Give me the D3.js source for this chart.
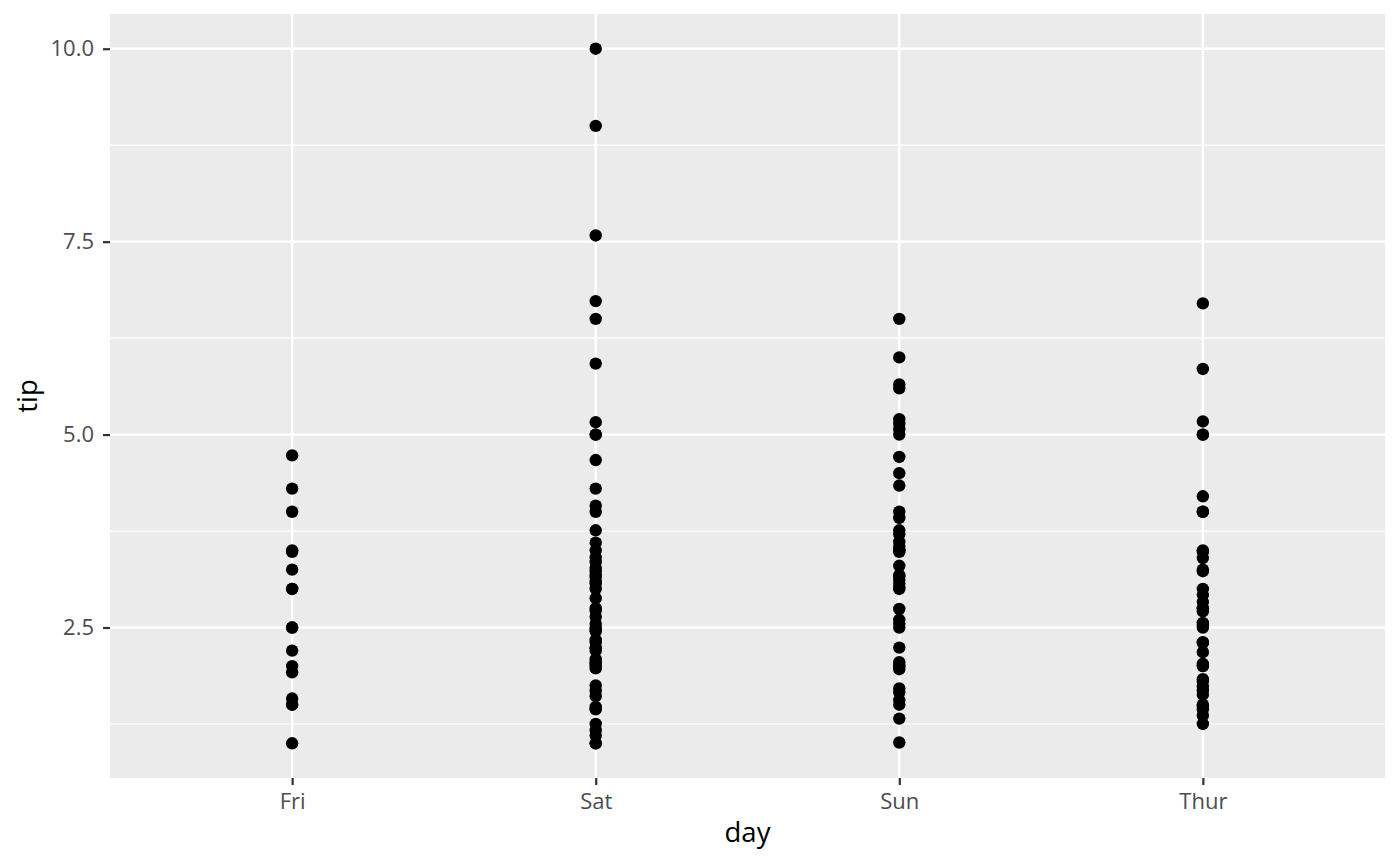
<!DOCTYPE html>
<html>
<head>
<meta charset="utf-8">
<script src="https://cdnjs.cloudflare.com/ajax/libs/d3/7.8.5/d3.min.js"></script>
<style>
  body { margin: 0; background: #fff; }
  text { font-family: "Open Sans", "Noto Sans", sans-serif; }
</style>
</head>
<body>
<div id="chart"></div>
<script>
  // categories on the x axis
  var days = ["Fri", "Sat", "Sun", "Thur"];

  // tip values per day
  var friTips = [4.73, 4.30, 4.00, 3.50, 3.48, 3.25, 3.00, 3.00, 2.50, 2.50, 2.20,
                 2.00, 1.92, 1.58, 1.50, 1.50, 1.00];
  var satTips = [10.00, 9.00, 7.58, 6.73, 6.50, 5.92, 5.16, 5.00, 5.00, 4.67, 4.30,
                 4.08, 4.00, 3.76, 3.60, 3.50, 3.41, 3.35, 3.27, 3.23, 3.18, 3.15,
                 3.09, 3.07, 3.00, 2.88, 2.75, 2.72, 2.64, 2.55, 2.50, 2.47, 2.45,
                 2.34, 2.31, 2.24, 2.23, 2.20, 2.09, 2.05, 2.03, 2.00, 1.97, 1.75,
                 1.68, 1.61, 1.47, 1.45, 1.44, 1.25, 1.17, 1.10, 1.00, 1.00];
  var sunTips = [6.50, 6.00, 5.65, 5.60, 5.20, 5.14, 5.07, 5.00, 4.71, 4.50, 4.34,
                 4.00, 3.92, 3.76, 3.71, 3.61, 3.55, 3.51, 3.50, 3.48, 3.30, 3.18,
                 3.16, 3.12, 3.07, 3.02, 3.00, 2.74, 2.60, 2.55, 2.50, 2.24, 2.05,
                 2.01, 2.00, 1.96, 1.71, 1.66, 1.56, 1.50, 1.32, 1.01];
  var thurTips = [6.70, 5.85, 5.17, 5.00, 5.00, 4.20, 4.00, 4.00, 3.50, 3.48, 3.40,
                  3.25, 3.23, 3.00, 2.92, 2.83, 2.75, 2.74, 2.71, 2.56, 2.52, 2.50,
                  2.31, 2.30, 2.18, 2.03, 2.00, 2.00, 1.83, 1.80, 1.73, 1.68, 1.63,
                  1.50, 1.48, 1.44, 1.36, 1.25];

  var yTicks = [2.5, 5.0, 7.5, 10.0];
  var yMinor = [1.25, 3.75, 6.25, 8.75];

  var tipsByDay = {"Fri": friTips, "Sat": satTips, "Sun": sunTips, "Thur": thurTips};
  var points = [];
  days.forEach(function(day) {
    tipsByDay[day].forEach(function(t) { points.push({day: day, tip: t}); });
  });

  var width = 1400;
  var height = 865;
  // panel edges
  var panelL = 110, panelR = 1385, panelT = 14, panelB = 778;

  var svg = d3.select("#chart")
    .append("svg")
    .attr("width", width)
    .attr("height", height);

  // discrete scale with ggplot's 0.6 unit padding on each side
  var x = d3.scalePoint()
    .domain(days)
    .range([panelL, panelR])
    .padding(0.6);

  var yMin = d3.min(points, function(d) { return d.tip; });
  var yMax = d3.max(points, function(d) { return d.tip; });
  var pad = (yMax - yMin) * 0.05;
  var y = d3.scaleLinear()
    .domain([yMin - pad, yMax + pad])
    .range([panelB, panelT]);

  // panel
  svg.append("rect")
    .attr("x", panelL)
    .attr("y", panelT)
    .attr("width", panelR - panelL)
    .attr("height", panelB - panelT)
    .attr("fill", "#ebebeb");

  // minor grid
  svg.selectAll("line.minor")
    .data(yMinor)
    .enter()
    .append("line")
    .attr("class", "minor")
    .attr("x1", panelL).attr("x2", panelR)
    .attr("y1", function(d) { return y(d); })
    .attr("y2", function(d) { return y(d); })
    .attr("stroke", "#fff")
    .attr("stroke-width", 1.2);

  // major grid
  svg.selectAll("line.majory")
    .data(yTicks)
    .enter()
    .append("line")
    .attr("class", "majory")
    .attr("x1", panelL).attr("x2", panelR)
    .attr("y1", function(d) { return y(d); })
    .attr("y2", function(d) { return y(d); })
    .attr("stroke", "#fff")
    .attr("stroke-width", 2.4);

  svg.selectAll("line.majorx")
    .data(days)
    .enter()
    .append("line")
    .attr("class", "majorx")
    .attr("y1", panelT).attr("y2", panelB)
    .attr("x1", function(d) { return x(d); })
    .attr("x2", function(d) { return x(d); })
    .attr("stroke", "#fff")
    .attr("stroke-width", 2.4);

  // points
  svg.selectAll("circle")
    .data(points)
    .enter()
    .append("circle")
    .attr("cx", function(d) { return x(d.day); })
    .attr("cy", function(d) { return y(d.tip); })
    .attr("r", 6.2)
    .attr("fill", "#000");

  // axes
  var xAxis = d3.axisBottom(x).tickSize(7).tickPadding(8);
  var yAxis = d3.axisLeft(y).tickValues(yTicks).tickSize(7).tickPadding(9)
    .tickFormat(d3.format(".1f"));

  var gx = svg.append("g")
    .attr("transform", "translate(0," + panelB + ")")
    .call(xAxis);
  var gy = svg.append("g")
    .attr("transform", "translate(" + panelL + ",0)")
    .call(yAxis);

  [gx, gy].forEach(function(g) {
    g.select(".domain").remove();
    g.selectAll(".tick line").attr("stroke", "#333").attr("stroke-width", 2.2);
    g.selectAll(".tick text")
      .attr("fill", "#4d4d4d")
      .style("font-size", "22px")
      .style("font-family", "'Open Sans', 'Noto Sans', sans-serif");
  });

  // axis titles
  svg.append("text")
    .attr("x", (panelL + panelR) / 2)
    .attr("y", 842)
    .attr("text-anchor", "middle")
    .attr("fill", "#000")
    .style("font-size", "27.5px")
    .text("day");

  svg.append("text")
    .attr("transform", "translate(37," + ((panelT + panelB) / 2) + ") rotate(-90)")
    .attr("text-anchor", "middle")
    .attr("fill", "#000")
    .style("font-size", "27.5px")
    .text("tip");
</script>
</body>
</html>
